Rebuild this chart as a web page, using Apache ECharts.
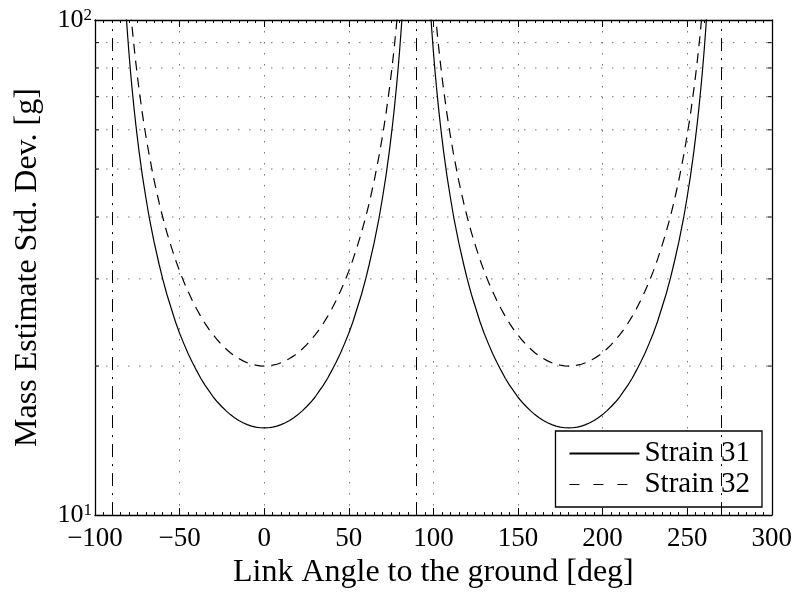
<!DOCTYPE html>
<html>
<head>
<meta charset="utf-8">
<script src="https://cdn.jsdelivr.net/npm/echarts@6/dist/echarts.min.js"></script>
<style>html,body{margin:0;padding:0;background:#fff}#c{width:795px;height:594px}</style>
</head>
<body>
<div id="c"></div>
<script>
// ---- data ----
const xTicks = [-100, -50, 0, 50, 100, 150, 200, 250, 300];
const xTickLabels = ['\u2212100', '\u221250', '0', '50', '100', '150', '200', '250', '300'];
const yTicks = [10, 100];
const yTickLabels = ['{b|10}{s|1}', '{b|10}{s|2}'];
const yMinorGrid = [20, 30, 40, 50, 60, 70, 80, 90];
const asymptotes = [-90, 90, 270];

const angles1 = [-82,-81,-80,-79,-78,-77,-76,-75,-74,-72,-70,-68,-65,-62,-60,-57.5,-55,-52.5,-50,-47.5,-45,-42.5,-40,-37.5,-35,
                 -32.5,-30,-27.5,-25,-22.5,-20,-17.5,-15,-12.5,-10,-7.5,-5,-2.5,0,
                 2.5,5,7.5,10,12.5,15,17.5,20,22.5,25,27.5,30,32.5,35,37.5,40,42.5,45,47.5,50,52.5,55,57.5,
                 60,62,65,68,70,72,74,75,76,77,78,79,80,81,82];
const angles2 = [98,99,100,101,102,103,104,105,106,108,110,112,115,118,120,122.5,125,127.5,130,132.5,135,137.5,140,142.5,145,
                 147.5,150,152.5,155,157.5,160,162.5,165,167.5,170,172.5,175,177.5,180,
                 182.5,185,187.5,190,192.5,195,197.5,200,202.5,205,207.5,210,212.5,215,217.5,220,222.5,225,227.5,230,232.5,235,237.5,
                 240,242,245,248,250,252,254,255,256,257,258,259,260,261,262];

const strain31a = [107.8,95.9,86.4,78.6,72.2,66.7,62.0,58.0,54.4,48.5,43.9,40.0,35.5,32.0,30.0,27.9,26.2,24.6,23.3,22.2,21.2,20.35,19.6,18.9,18.3,
                   17.8,17.3,16.9,16.55,16.24,15.96,15.73,15.53,15.36,15.23,15.13,15.06,15.01,15.0,
                   15.01,15.06,15.13,15.23,15.36,15.53,15.73,15.96,16.24,16.55,16.9,17.3,17.8,18.3,18.9,19.6,20.35,21.2,22.2,23.3,24.6,26.2,27.9,
                   30.0,32.0,35.5,40.0,43.9,48.5,54.4,58.0,62.0,66.7,72.2,78.6,86.4,95.9,107.8];
const strain31b = [107.8,95.9,86.4,78.6,72.2,66.7,62.0,58.0,54.4,48.5,43.9,40.0,35.5,32.0,30.0,27.9,26.2,24.6,23.3,22.2,21.2,20.35,19.6,18.9,18.3,
                   17.8,17.3,16.9,16.55,16.24,15.96,15.73,15.53,15.36,15.23,15.13,15.06,15.01,15.0,
                   15.01,15.06,15.13,15.23,15.36,15.53,15.73,15.96,16.24,16.55,16.9,17.3,17.8,18.3,18.9,19.6,20.35,21.2,22.2,23.3,24.6,26.2,27.9,
                   30.0,32.0,35.5,40.0,43.9,48.5,54.4,58.0,62.0,66.7,72.2,78.6,86.4,95.9,107.8];
const strain32a = [143.7,127.9,115.2,104.8,96.2,88.9,82.7,77.3,72.6,64.7,58.5,53.4,47.3,42.6,40.0,37.2,34.9,32.85,31.1,29.6,28.3,27.13,26.1,25.2,24.4,
                   23.7,23.1,22.55,22.07,21.65,21.28,20.97,20.71,20.49,20.31,20.17,20.08,20.02,20.0,
                   20.02,20.08,20.17,20.31,20.49,20.71,20.97,21.28,21.65,22.07,22.55,23.1,23.7,24.4,25.2,26.1,27.13,28.3,29.6,31.1,32.85,34.9,37.2,
                   40.0,42.6,47.3,53.4,58.5,64.7,72.6,77.3,82.7,88.9,96.2,104.8,115.2,127.9,143.7];
const strain32b = [143.7,127.9,115.2,104.8,96.2,88.9,82.7,77.3,72.6,64.7,58.5,53.4,47.3,42.6,40.0,37.2,34.9,32.85,31.1,29.6,28.3,27.13,26.1,25.2,24.4,
                   23.7,23.1,22.55,22.07,21.65,21.28,20.97,20.71,20.49,20.31,20.17,20.08,20.02,20.0,
                   20.02,20.08,20.17,20.31,20.49,20.71,20.97,21.28,21.65,22.07,22.55,23.1,23.7,24.4,25.2,26.1,27.13,28.3,29.6,31.1,32.85,34.9,37.2,
                   40.0,42.6,47.3,53.4,58.5,64.7,72.6,77.3,82.7,88.9,96.2,104.8,115.2,127.9,143.7];

const seriesNames = ['Strain 31', 'Strain 32'];
const xName = 'Link Angle to the ground [deg]';
const yName = 'Mass Estimate Std. Dev. [g]';

// ---- chart ----
const FONT = 'Liberation Serif';
const zip = (xs, ys) => xs.map((x, i) => [x, ys[i]]);
const xMin = xTicks[0], xMax = xTicks[xTicks.length - 1];
const dotted = [1.5, 9.5];

const chart = echarts.init(document.getElementById('c'), null, {renderer: 'canvas'});

const baseX = {
  type: 'value', min: xMin, max: xMax, interval: xTicks[1] - xTicks[0],
  axisLine: {show: true, onZero: false, lineStyle: {color: '#000', width: 1.3}},
  axisTick: {show: true, inside: true, length: 7, lineStyle: {color: '#000', width: 1}},
  minorTick: {show: true, splitNumber: 10, length: 3, lineStyle: {color: '#000', width: 1}},
  splitLine: {show: false}
};
const baseY = {
  type: 'log', logBase: 10, min: yTicks[0], max: yTicks[yTicks.length - 1],
  axisLine: {show: true, onZero: false, lineStyle: {color: '#000', width: 1.3}},
  axisTick: {show: true, inside: true, length: 7, lineStyle: {color: '#000'}},
  splitLine: {show: false}
};

const curve = (name, data, type) => ({
  type: 'line', name, data,
  symbol: 'none', showSymbol: false, clip: true, z: 3,
  lineStyle: {color: '#000', width: 1.2, type}, itemStyle: {color: '#000'}
});

const s31a = curve(seriesNames[0], zip(angles1, strain31a), 'solid');
s31a.markLine = {
  silent: true, symbol: 'none', label: {show: false}, animation: false,
  lineStyle: {color: '#000', width: 1, type: [13, 7, 2, 7]},
  data: asymptotes.map(v => ({xAxis: v}))
};

const option = {
  animation: false,
  backgroundColor: '#fff',
  grid: {left: 95, right: 20, top: 20, bottom: 76, containLabel: false},
  xAxis: [
    Object.assign({}, baseX, {
      position: 'bottom',
      name: xName, nameLocation: 'middle', nameGap: 39,
      nameTextStyle: {fontFamily: FONT, fontSize: 32, color: '#000'},
      axisLabel: {
        margin: 10, fontFamily: FONT, fontSize: 27, color: '#000',
        formatter: v => { const i = xTicks.indexOf(v); return i >= 0 ? xTickLabels[i] : ''; }
      },
      splitLine: {show: true, lineStyle: {color: '#777', width: 1, type: dotted}}
    }),
    Object.assign({}, baseX, {position: 'top', axisLabel: {show: false}})
  ],
  yAxis: [
    Object.assign({}, baseY, {
      position: 'left',
      name: yName, nameLocation: 'middle', nameGap: 51, nameRotate: 90,
      nameTextStyle: {fontFamily: FONT, fontSize: 32, color: '#000'},
      axisLabel: {
        margin: 3, color: '#000',
        formatter: v => { const i = yTicks.findIndex(t => Math.abs(t - v) < 1e-6); return i >= 0 ? yTickLabels[i] : ''; },
        rich: {
          b: {fontFamily: FONT, fontSize: 26, color: '#000'},
          s: {fontFamily: FONT, fontSize: 17, color: '#000', verticalAlign: 'top'}
        }
      }
    }),
    Object.assign({}, baseY, {position: 'right', axisLabel: {show: false}})
  ],
  legend: {
    orient: 'vertical', right: 33, bottom: 87,
    backgroundColor: '#fff', borderColor: '#000', borderWidth: 1.3,
    padding: [8, 12, 8, 13], itemGap: 2, itemWidth: 70, itemHeight: 14,
    itemStyle: {opacity: 0},
    textStyle: {fontFamily: FONT, fontSize: 29, color: '#000', lineHeight: 29},
    data: [
      {name: seriesNames[0], itemStyle: {opacity: 0}},
      {name: seriesNames[1], itemStyle: {opacity: 0}, lineStyle: {type: [10, 14], color: '#000', width: 1}}
    ]
  },
  series: [
    {
      type: 'custom', name: 'grid', silent: true, z: 1,
      data: yMinorGrid.map(v => [xMin, v]),
      renderItem: (params, api) => {
        const v = api.value(1);
        const p1 = api.coord([xMin, v]);
        const p2 = api.coord([xMax, v]);
        return {
          type: 'group',
          children: [
            {type: 'line', shape: {x1: p1[0], y1: p1[1], x2: p2[0], y2: p2[1]},
             style: {stroke: '#777', lineWidth: 1, lineDash: dotted}},
            {type: 'line', shape: {x1: p1[0], y1: p1[1], x2: p1[0] + 4, y2: p1[1]},
             style: {stroke: '#000', lineWidth: 1}},
            {type: 'line', shape: {x1: p2[0] - 4, y1: p2[1], x2: p2[0], y2: p2[1]},
             style: {stroke: '#000', lineWidth: 1}}
          ]
        };
      }
    },
    s31a,
    curve(seriesNames[0], zip(angles2, strain31b), 'solid'),
    curve(seriesNames[1], zip(angles1, strain32a), [10, 7]),
    curve(seriesNames[1], zip(angles2, strain32b), [10, 7])
  ]
};
chart.setOption(option);
</script>
</body>
</html>
